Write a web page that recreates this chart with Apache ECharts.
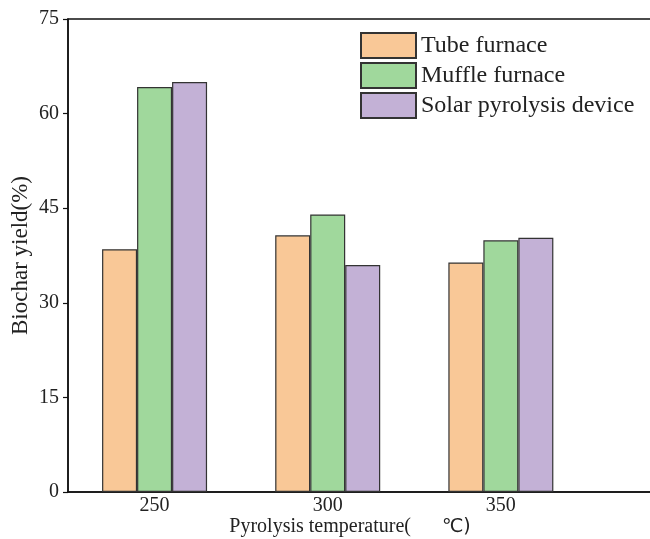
<!DOCTYPE html>
<html>
<head>
<meta charset="utf-8">
<script src="https://cdn.jsdelivr.net/npm/echarts@6/dist/echarts.min.js"></script>
<style>html,body{margin:0;padding:0;background:#fff}#c{width:650px;height:539px}</style>
</head>
<body>
<div id="c"></div>
<script>
var temperatures = [250, 300, 350];
var seriesNames = ['Tube furnace', 'Muffle furnace', 'Solar pyrolysis device'];
var tubeFurnace = [38.5, 40.7, 36.4];
var muffleFurnace = [64.2, 44.0, 39.9];
var solarDevice = [65.0, 36.0, 40.3];
var yTicks = [0, 15, 30, 45, 60, 75];
var colors = ['#F9C897', '#A0D89C', '#C3B1D6'];

var serif = 'Liberation Serif, Times New Roman, serif';
function pairs(vals){ return temperatures.map(function(t,i){ return [t, vals[i]]; }); }
var allVals = [tubeFurnace, muffleFurnace, solarDevice];

var chart = echarts.init(document.getElementById('c'), null, {renderer:'canvas'});
chart.setOption({
  animation: false,
  backgroundColor: '#fff',
  grid: { left: 68, top: 19, width: 606, height: 473, outerBoundsMode: 'none', containLabel: false,
          show: true, borderColor: '#111', borderWidth: 1.5, backgroundColor: 'transparent' },
  legend: {
    orient: 'vertical', left: 355, top: 27,
    itemWidth: 55, itemHeight: 25, itemGap: 3,
    icon: 'rect',
    textStyle: { fontFamily: serif, fontSize: 24, color: '#222' },
    data: seriesNames
  },
  xAxis: {
    type: 'value', min: 225, max: 400,
    splitLine: { show: false },
    axisLine: { lineStyle: { color: '#111', width: 1.5 } },
    axisTick: { show: false },
    axisLabel: { customValues: temperatures, fontFamily: serif, fontSize: 20, color: '#222', margin: 4 },
    name: '{a|Pyrolysis temperature(}{b|℃)}',
    nameLocation: 'middle', nameGap: 25, nameMoveOverlap: false,
    nameTextStyle: {
      rich: {
        a: { fontFamily: serif, fontSize: 20, color: '#222', padding: [0, 31, 0, 0] },
        b: { fontFamily: 'DejaVu Sans, sans-serif', fontSize: 19, color: '#222', padding: [0, 42, 0, 0] }
      }
    }
  },
  yAxis: {
    type: 'value', min: 0, max: 75, interval: 15,
    splitLine: { show: false },
    axisLine: { show: true, lineStyle: { color: '#111', width: 1.5 } },
    axisTick: { show: true, length: 5, lineStyle: { color: '#111', width: 1.2 } },
    axisLabel: { fontFamily: serif, fontSize: 20, color: '#222', margin: 9,
      formatter: function(v){ return yTicks.indexOf(v) >= 0 ? String(v) : ''; } },
    name: 'Biochar yield(%)', nameLocation: 'middle', nameGap: 36, nameRotate: 90, nameMoveOverlap: false,
    nameTextStyle: { fontFamily: serif, fontSize: 23, color: '#222' }
  },
  series: seriesNames.map(function(n, i){
    return {
      name: n, type: 'bar', barWidth: 35, barGap: '0%',
      itemStyle: { color: colors[i], borderColor: '#333', borderWidth: 1.2 },
      data: pairs(allVals[i])
    };
  })
});
</script>
</body>
</html>
